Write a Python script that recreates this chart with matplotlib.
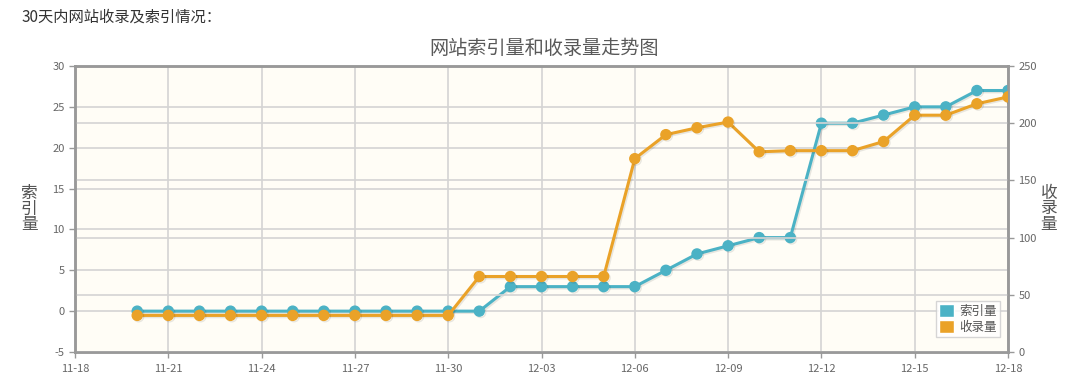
import matplotlib
matplotlib.use("Agg")
import matplotlib.pyplot as plt
import matplotlib.patheffects as pe
from matplotlib.patches import Patch
import pandas as pd

plt.rcParams['font.family'] = ['Noto Sans CJK SC', 'DejaVu Sans']
plt.rcParams['axes.unicode_minus'] = False

# ---- data ----
dates = ["11-20", "11-21", "11-22", "11-23", "11-24", "11-25", "11-26", "11-27",
         "11-28", "11-29", "11-30", "12-01", "12-02", "12-03", "12-04", "12-05",
         "12-06", "12-07", "12-08", "12-09", "12-10", "12-11", "12-12", "12-13",
         "12-14", "12-15", "12-16", "12-17", "12-18"]
index_counts = [0, 0, 0, 0, 0, 0, 0, 0, 0, 0, 0, 0, 3, 3, 3, 3, 3, 5, 7, 8, 9, 9,
                23, 23, 24, 25, 25, 27, 27]
indexed_pages = [32, 32, 32, 32, 32, 32, 32, 32, 32, 32, 32, 66, 66, 66, 66, 66,
                 169, 190, 196, 201, 175, 176, 176, 176, 184, 207, 207, 217, 223]
x_tick_labels = ["11-18", "11-21", "11-24", "11-27", "11-30", "12-03", "12-06",
                 "12-09", "12-12", "12-15", "12-18"]
left_ticks = [-5, 0, 5, 10, 15, 20, 25, 30]
right_ticks = [0, 50, 100, 150, 200, 250]

title = "网站索引量和收录量走势图"
header = "30天内网站收录及索引情况："
left_label = "索引量"
right_label = "收录量"

def to_dt(s):
    m, d = s.split("-")
    return pd.Timestamp(year=2016, month=int(m), day=int(d))

xd = [to_dt(s) for s in dates]
xt = [to_dt(s) for s in x_tick_labels]

blue = "#4bb2c5"
orange = "#eaa228"
tick_color = "#666666"
border = "#999999"

fig = plt.figure(figsize=(10.82, 3.90), dpi=100)
ax = fig.add_axes([75 / 1082, 1 - 352 / 390, 933 / 1082, 286 / 390])
ax.set_facecolor("#fffdf6")
ax2 = ax.twinx()

shadow = [pe.SimpleLineShadow(offset=(1.0, -1.0), shadow_color="black", alpha=0.09),
          pe.Normal()]

ax.set_xlim(xt[0], xt[-1])
ax.set_ylim(-5, 30)
ax2.set_ylim(0, 250)
ax.set_xticks(xt)
ax.set_xticklabels(x_tick_labels)
ax.set_yticks(left_ticks)
ax2.set_yticks(right_ticks)

ax.grid(True, color="#d4d4d4", linewidth=1.2)
ax2.grid(True, axis="y", color="#d4d4d4", linewidth=1.2)
ax.set_axisbelow(True)
ax2.set_axisbelow(True)

l1, = ax.plot(xd, index_counts, color=blue, linewidth=2.2, marker="o",
              markersize=7.2, label=left_label, path_effects=shadow, zorder=3)
l2, = ax2.plot(xd, indexed_pages, color=orange, linewidth=2.2, marker="o",
               markersize=7.2, label=right_label, path_effects=shadow, zorder=3)

for a in (ax, ax2):
    for sp in a.spines.values():
        sp.set_color(border)
        sp.set_linewidth(1.8)
    a.tick_params(colors=border, labelcolor=tick_color, labelsize=8,
                  length=4, width=1)
ax.tick_params(axis="x", pad=5)

ax.text(-0.049, 0.5, "\n".join(left_label), transform=ax.transAxes,
        ha="center", va="center", fontsize=12, color="#555555", linespacing=0.9)
ax2.text(1.044, 0.5, "\n".join(right_label), transform=ax2.transAxes,
         ha="center", va="center", fontsize=12, color="#555555", linespacing=0.9)

fig.text(0.5025, 1 - 48 / 390, title, ha="center", va="center", fontsize=13.8,
         color="#595959")
fig.text(22 / 1082, 1 - 17.5 / 390, header, ha="left", va="center", fontsize=11,
         color="#333333")

handles = [Patch(facecolor=blue, edgecolor="white"),
           Patch(facecolor=orange, edgecolor="white")]
leg = ax2.legend(handles=handles, labels=[left_label, right_label], loc="lower right",
                 bbox_to_anchor=(0.991, 0.052), fontsize=9, frameon=True,
                 fancybox=False, edgecolor="#cccccc", facecolor="white",
                 handlelength=1.2, handleheight=1.2, handletextpad=0.4,
                 borderpad=0.25, labelspacing=0.2, borderaxespad=0)
leg.get_frame().set_linewidth(1.0)
for t in leg.get_texts():
    t.set_color("#555555")

fig.savefig("out.png", dpi=100)
